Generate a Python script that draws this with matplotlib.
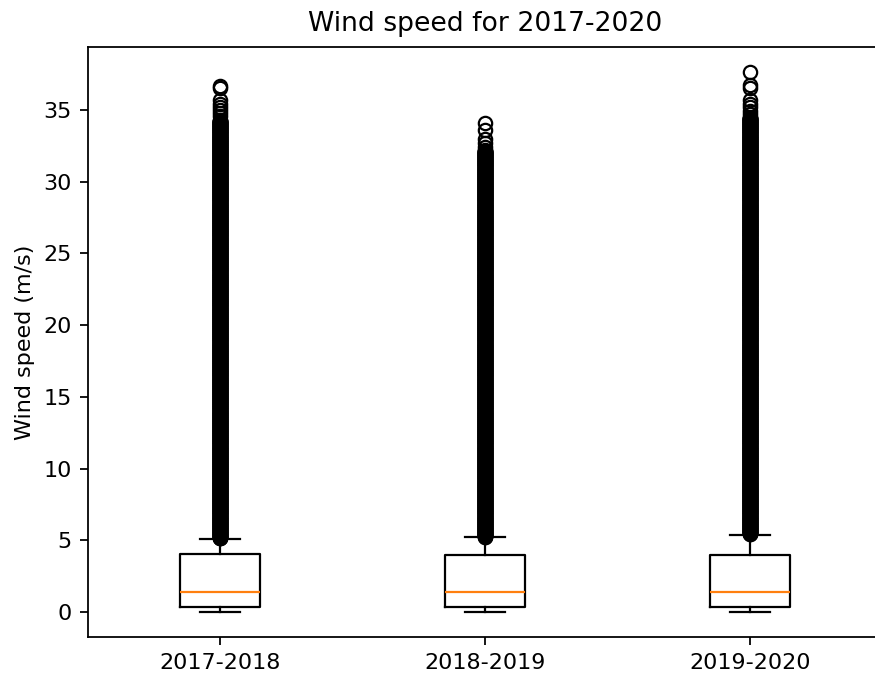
import numpy as np
import matplotlib.pyplot as plt

# periods on the x axis
periods = ['2017-2018', '2018-2019', '2019-2020']

# box statistics (m/s)
whislo = [0.0, 0.0, 0.0]
q1 = [0.37, 0.37, 0.37]
med = [1.40, 1.40, 1.40]
q3 = [4.05, 3.98, 3.96]
whishi = [5.1, 5.2, 5.4]

# outliers: a solid band of points plus a few separate ones at the top
band_lo = [5.14, 5.24, 5.44]
band_hi = [34.3, 32.2, 34.5]
top_fliers = [
    [34.6, 34.8, 35.0, 35.2, 35.4, 35.7, 36.55, 36.7],
    [32.4, 32.7, 33.0, 33.6, 34.1],
    [34.7, 34.9, 35.2, 35.4, 35.7, 36.5, 36.75, 37.65],
]


def main():
    # the reference was drawn at a higher dpi and then cut to this size
    fig = plt.figure(figsize=(875 / 160, 677 / 160), dpi=160)
    # the original figure was cut on the right, so the axes run past the edge
    ax = fig.add_axes([87.5 / 875, 40 / 677, 795 / 875, 590 / 677])

    stats = []
    for i, name in enumerate(periods):
        # the band holds thousands of observations, too dense to read one by one
        band = np.arange(band_lo[i], band_hi[i], 0.02)
        stats.append(dict(label=name, whislo=whislo[i], q1=q1[i], med=med[i],
                          q3=q3[i], whishi=whishi[i],
                          fliers=np.concatenate([band, top_fliers[i]])))

    ax.bxp(stats)
    ax.set_ylim(-1.74, 39.39)
    ax.set_title('Wind speed for 2017-2020', pad=7)
    ax.set_ylabel('Wind speed (m/s)')

    fig.savefig('out.png', dpi=160)


if (__name__ == "__main__"):
    main()
